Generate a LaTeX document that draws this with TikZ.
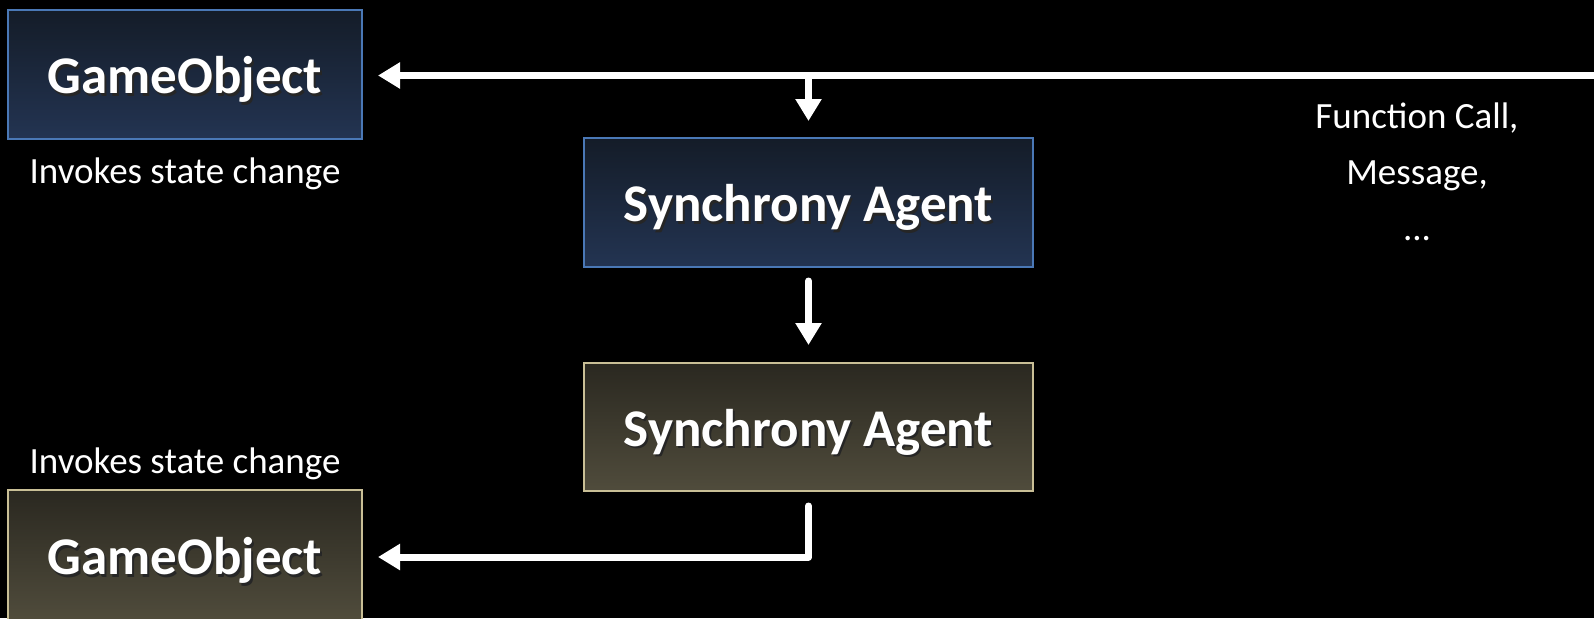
\documentclass[tikz,border=0pt]{standalone}
\usepackage{fontspec}
\setmainfont{Carlito}
\usetikzlibrary{arrows.meta}
\definecolor{bluetop}{HTML}{141C28}
\definecolor{bluebot}{HTML}{233452}
\definecolor{blueedge}{HTML}{4A78B6}
\definecolor{olivetop}{HTML}{2A2820}
\definecolor{olivebot}{HTML}{504C3C}
\definecolor{oliveedge}{HTML}{C9BF96}
\newcommand\shtxt[1]{\makebox[0pt][l]{\hspace{2pt}\raisebox{-2.5pt}{\textcolor{black!85}{#1}}}#1}
\tikzset{
  boxbase/.style={rectangle, draw, line width=2pt, text=white, inner sep=0pt,
    text height=38pt, text depth=0pt,
    font=\fontsize{53}{62}\selectfont\bfseries},
  bluebox/.style={boxbase, draw=blueedge, top color=bluetop, bottom color=bluebot},
  olivebox/.style={boxbase, draw=oliveedge, top color=olivetop, bottom color=olivebot},
  note/.style={text=white, font=\fontsize{37}{45}\selectfont, inner sep=0pt},
  flow/.style={draw=white, line width=7pt, line join=round,
    -{Triangle[length=22pt,width=25pt]}},
}
\begin{document}
\begin{tikzpicture}[x=1pt,y=-1pt]
\useasboundingbox (0,0) rectangle (1594,618);
\fill[black] (0,0) rectangle (1594,618);
\node[bluebox, minimum width=354pt, minimum height=129pt] (go1) at (185,74.5) {\shtxt{GameObject}};
\node[note] (inv1) at (185,174) {Invokes state change};
\node[bluebox, minimum width=449pt, minimum height=129pt] (sa1) at (808.5,202.5) {\shtxt{Synchrony Agent}};
\node[olivebox, minimum width=449pt, minimum height=128pt] (sa2) at (808.5,427) {\shtxt{Synchrony Agent}};
\node[note] (inv2) at (185,464) {Invokes state change};
\node[olivebox, minimum width=354pt, minimum height=131pt] (go2) at (185,555.5) {\shtxt{GameObject}};
\node[note, align=center] (calls) at (1417,172) {Function Call,\\[11pt]Message,\\[11pt]...};
\coordinate (src) at (1594,75.5);
\coordinate (split) at (sa1.north |- src);
\draw[flow, shorten >=15pt] (src) -- (go1.east |- src);
\draw[flow, shorten >=16pt] (split) -- (sa1.north);
\draw[flow, line cap=round, shorten <=13pt, shorten >=17pt] (sa1.south) -- (sa2.north);
\draw[flow, line cap=round, shorten <=14pt, shorten >=15pt] (sa2.south) |- (go2.east |- 0,557);
\end{tikzpicture}
\end{document}
